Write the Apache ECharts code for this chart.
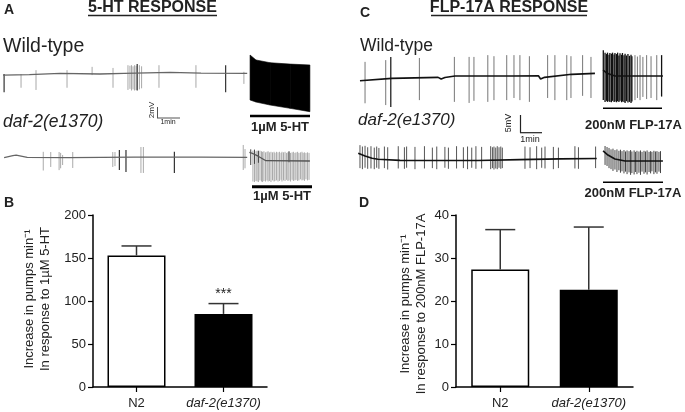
<!DOCTYPE html>
<html><head><meta charset="utf-8">
<script src="https://cdn.jsdelivr.net/npm/echarts@6/dist/echarts.min.js"></script>
<style>html,body{margin:0;padding:0;background:#fff}#c{width:685px;height:412px}</style>
</head><body><div id="c"></div>
<script>
// ---------- DATA (time in min, potential in mV relative to trace baseline) ----------
// Panel A, wild-type trace
const A_WT_BASE = [[0,-0.2],[1.2,-0.1],[2.6,0.13],[4.4,0.0],[5.5,0.1],[7.6,0.3],[9.0,0.15],[11.1,0.1]];
const A_WT_SPIKES_LIGHT = [[0.82,0,-2.5],[1.5,0.7,-2.9],[2.91,0.7,-2.5],[4.05,1.3,-0.2],[5.0,1.1,-2.5],
  [5.68,1.6,-2.9],[5.77,1.5,-2.7],[5.84,1.6,-3.0],[5.91,1.4,-2.8],[5.98,1.6,-3.0],[6.05,1.5,-2.9],[6.2,1.6,-2.8],[6.3,1.4,-2.6],
  [7.09,1.6,-2.5],[8.77,1.6,-2.5],[10.95,0.4,-1.8]];
const A_WT_SPIKES_DARK = [[0.05,0,-3.3],[6.1,1.8,-3.0],[10.12,1.6,-3.3]];
const A_WT_5HT_ENVELOPE = [[11.23,3.45,-4.73],[11.5,2.55,-5.1],[12.14,2.05,-5.64],[13.05,1.8,-6.24],[13.95,1.64,-6.85]];
// Panel A, daf-2 trace
const A_DAF_BASE = [[0.05,-0.05],[0.45,0.3],[0.6,0.4],[1.1,0],[3,-0.05],[6,0.05],[9,0.05],[11.1,0]];
const A_DAF_SPIKES_LIGHT = [[1.83,1.0,-2.4],[2.17,0.96,-1.76],[2.55,0.96,-2.33],[2.62,0.8,-2.0],[2.71,0.42,-1.4],[3.17,0.96,-1.94],
  [4.99,0.96,-1.76],[5.09,0.96,-1.6],[6.27,1.87,-2.85],[6.38,1.87,-2.85],[10.92,2.24,-2.3],[11.0,1.5,-2.0]];
const A_DAF_SPIKES_DARK = [[5.29,1.33,-2.33],[5.59,1.33,-2.67],[7.79,1.0,-2.85]];
const A_DAF_5HT_BASE = [[11.2,0.9],[11.3,0.78],[11.6,0.2],[11.95,-0.62],[13.95,-0.67]];
const A_DAF_5HT_SPIKES = [[11.36,1.2,-4.4],[11.43,1.3,-4.5],[11.5,1.1,-4.3],[11.55,1.2,-4.4],[11.61,1.0,-4.5],[11.68,1.2,-4.2],
  [11.75,1.1,-4.4],[11.8,1.0,-4.5],[11.86,1.1,-4.3],[11.93,0.9,-4.4],[12.0,1.0,-4.2],[12.05,1.1,-4.4],[12.11,0.9,-4.3],
  [12.18,1.0,-4.5],[12.25,0.9,-4.2],[12.32,1.0,-4.4],[12.36,0.8,-4.3],[12.43,1.0,-4.2],[12.5,0.9,-4.4],[12.57,1.0,-4.3],
  [12.64,0.8,-4.1],[12.68,1.0,-4.4],[12.75,0.9,-4.2],[12.82,1.0,-4.3],[12.89,0.8,-4.1],[12.95,0.9,-4.3],[13.0,1.0,-4.2],
  [13.07,0.8,-4.4],[13.14,0.9,-4.1],[13.2,1.0,-4.3],[13.27,0.8,-4.2],[13.32,0.9,-4.1],[13.39,1.0,-4.3],[13.45,0.8,-4.2],
  [13.52,0.9,-4.0],[13.59,1.0,-4.2],[13.64,0.8,-4.1],[13.7,0.9,-4.3],[13.77,0.8,-4.0],[13.84,0.9,-4.2],[13.91,0.8,-4.1]];
const A_DAF_5HT_SPIKES_DARK = [[11.26,1.45,-1.4],[11.43,1.4,-1.2],[11.61,1.2,-1.0],[13.0,1.1,-0.9]];
// Panel C, wild-type trace
const C_WT_BASE = [[0.09,-1.33],[1.53,-0.65],[3.64,-0.37],[3.78,-0.85],[3.95,-0.42],[4.41,0],[6.99,0],[8.2,0.08],[8.3,-0.85],[8.48,-0.37],[9.71,0.48],[10.77,0.76]];
const C_WT_SPIKES = [[0.32,4.0,-7.7],[1.26,4.5,-8.2],[2.79,5.1,-6.8],[4.38,5.4,-7.3],[5.05,5.4,-7.6],[5.27,5.4,-7.0],[5.9,5.9,-7.3],
  [6.18,5.6,-6.8],[6.76,5.9,-6.8],[7.09,5.9,-6.2],[7.36,5.9,-6.8],[7.79,5.6,-7.3],[8.62,5.9,-6.2],[8.95,5.9,-6.8],[9.49,5.9,-6.8],
  [9.68,5.6,-6.2],[10.21,5.9,-5.6],[10.59,5.4,-6.2]];
const C_WT_SPIKES_DARK = [[1.49,5.4,-8.76]];
const C_WT_FLP_BASE = [[11.14,1.7],[11.32,0.76],[11.68,0],[13.86,0]];
const C_WT_FLP_BURST = [[11.15,7.3,-6.8],[11.23,6.6,-7.3],[11.3,6.2,-7.0],[11.34,6.6,-7.3],[11.41,6.0,-7.1],[11.45,6.5,-7.3],[11.52,6.3,-7.4],
  [11.57,6.6,-7.0],[11.64,6.1,-7.3],[11.68,6.5,-7.2],[11.75,6.2,-7.4],[11.8,6.6,-7.1],[11.86,5.8,-7.3],[11.91,6.4,-7.0],
  [11.98,6.0,-7.4],[12.02,6.5,-7.2],[12.09,5.9,-7.3],[12.14,6.3,-7.6],[12.2,5.8,-7.1],[12.27,6.2,-7.5],[12.34,5.7,-7.3],
  [12.41,6.0,-7.6],[12.45,5.6,-7.2],[13.8,5.9,-5.8]];
const C_WT_FLP_SPIKES = [[12.59,5.9,-6.8],[12.7,5.5,-6.2],[12.82,5.9,-6.8],[12.95,5.4,-5.9],[13.12,5.9,-6.5],[13.32,5.6,-6.2],[13.58,5.9,-6.8]];
// Panel C, daf-2 trace
const C_DAF_BASE = [[0.01,1.9],[0.32,1.13],[0.64,0.48],[0.91,0.2],[1.91,-0.1],[5.45,-0.15],[7.36,0.1],[9.18,0.3],[10.85,0.4]];
const C_DAF_SPIKES = [[0.09,4.2,-2.3],[0.2,3.8,-2.6],[0.32,4.0,-2.2],[0.44,3.6,-2.5],[0.59,3.9,-2.4],[0.74,3.5,-2.6],[0.85,3.8,-2.2],
  [0.95,3.4,-2.5],[1.2,3.8,-2.3],[1.35,3.6,-2.7],[1.83,3.9,-2.4],[2.11,3.6,-2.5],[2.21,3.8,-2.2],[2.59,3.7,-2.6],[3.02,3.9,-2.4],
  [3.38,3.5,-2.3],[3.58,3.8,-2.6],[3.95,3.7,-2.2],[4.11,3.5,-2.5],[4.48,3.9,-2.4],[4.79,3.6,-2.3],[4.98,3.8,-2.6],[5.17,3.5,-2.2],
  [5.36,3.9,-2.5],[5.62,3.7,-2.4],[6.03,3.9,-2.6],[6.11,3.6,-2.3],[6.18,3.8,-2.7],[6.26,3.5,-2.4],[6.33,3.9,-2.6],[6.41,3.6,-2.2],
  [6.49,3.8,-2.5],[6.56,3.5,-2.3],[7.59,3.8,-2.5],[7.82,3.6,-2.3],[8.12,3.9,-2.6],[8.35,3.5,-2.2],[8.5,3.8,-2.4],[8.88,3.7,-2.6],
  [9.11,3.5,-2.3],[9.86,3.9,-2.4],[10.02,3.6,-2.5],[10.8,3.8,-2.3]];
const C_DAF_FLP_BASE = [[11.14,2.6],[11.36,1.4],[11.68,0.28],[12.14,-0.28],[13.86,-0.28]];
const C_DAF_FLP_SPIKES = [[11.23,3.95,-1.4],[11.32,3.67,-1.7],[11.41,3.4,-2.3],[11.5,3.0,-2.6],[11.59,3.2,-3.1],[11.68,2.8,-2.7],
  [11.77,3.0,-3.4],[11.86,2.6,-2.9],[11.93,2.9,-3.6],[12.0,2.5,-3.2],[12.09,2.8,-3.8],[12.16,2.4,-3.3],[12.23,2.7,-4.0],
  [12.32,2.5,-3.5],[12.39,2.8,-4.2],[12.45,2.4,-3.7],[12.55,2.7,-4.1],[12.61,2.3,-3.4],[12.68,2.6,-4.0],[12.77,2.4,-3.6],
  [12.84,2.7,-4.2],[12.91,2.3,-3.3],[13.0,2.6,-3.9],[13.07,2.4,-3.5],[13.14,2.7,-4.1],[13.23,2.3,-3.4],[13.3,2.5,-3.8],
  [13.36,2.3,-3.2],[13.45,2.6,-4.0],[13.52,2.4,-3.5],[13.59,2.5,-3.9],[13.68,2.3,-3.3],[13.75,2.5,-3.7]];

// Bar charts
const CATEGORIES = ['N2', 'daf-2(e1370)'];
const B_MEAN = [153, 85];
const B_ERR_TOP = [164, 97];
const B_SIG = ['', '***'];
const D_MEAN = [27.3, 22.6];
const D_ERR_TOP = [36.6, 37.2];
const B_AXIS = {min: 0, max: 200, interval: 50};
const D_AXIS = {min: 0, max: 40, interval: 10};

// ---------- CHART ----------
const FONT = '"Liberation Sans", Arial, sans-serif';
const TXT = '#222';

function baseSeries(gi, data, color, w) {
  return {type: 'line', xAxisIndex: gi, yAxisIndex: gi, data: data, showSymbol: false, silent: true,
    lineStyle: {color: color, width: w}, z: 3, animation: false};
}
function spikeSeries(gi, data, color, w) {
  return {type: 'custom', xAxisIndex: gi, yAxisIndex: gi, data: data, silent: true, animation: false, z: 2,
    renderItem: function (p, api) {
      const a = api.coord([api.value(0), api.value(1)]);
      const b = api.coord([api.value(0), api.value(2)]);
      return {type: 'line', shape: {x1: a[0], y1: a[1], x2: b[0], y2: b[1]}, style: {stroke: color, lineWidth: w}};
    }};
}
function envelopeSeries(gi, env, color) {
  return {type: 'custom', xAxisIndex: gi, yAxisIndex: gi, data: env, silent: true, animation: false, z: 2,
    renderItem: function (p, api) {
      const i = p.dataIndex;
      if (i >= env.length - 1) return null;
      const a = env[i], b = env[i + 1];
      const pts = [api.coord([a[0], a[1]]), api.coord([b[0], b[1]]), api.coord([b[0], b[2]]), api.coord([a[0], a[2]])];
      return {type: 'polygon', shape: {points: pts}, style: {fill: color, stroke: color, lineWidth: 0.6}};
    }};
}
function errSeries(gi, means, tops, sig) {
  const data = means.map((m, i) => [i, m, tops[i]]);
  return {type: 'custom', xAxisIndex: gi, yAxisIndex: gi, data: data, silent: true, animation: false, z: 5,
    renderItem: function (p, api) {
      const a = api.coord([api.value(0), api.value(1)]);
      const b = api.coord([api.value(0), api.value(2)]);
      const children = [
        {type: 'line', shape: {x1: a[0], y1: a[1], x2: b[0], y2: b[1]}, style: {stroke: '#333', lineWidth: 1.5}},
        {type: 'line', shape: {x1: b[0] - 15, y1: b[1], x2: b[0] + 15, y2: b[1]}, style: {stroke: '#333', lineWidth: 1.5}}
      ];
      if (sig && sig[p.dataIndex]) {
        children.push({type: 'text', x: b[0], y: b[1] - 9, style: {text: sig[p.dataIndex], font: '14px ' + FONT, fill: TXT, align: 'center', verticalAlign: 'middle'}});
      }
      return {type: 'group', children: children};
    }};
}

const hiddenX = (max) => ({type: 'value', min: 0, max: max, show: false});
const hiddenY = (min, max) => ({type: 'value', min: min, max: max, show: false});

function catAxis(gi) {
  return {type: 'category', gridIndex: gi,
    data: CATEGORIES,
    axisLine: {show: true, lineStyle: {color: '#000', width: 1.5}},
    axisTick: {show: true, alignWithLabel: true, length: 5, interval: 0, lineStyle: {color: '#000', width: 1.2}},
    axisLabel: {interval: 0, hideOverlap: false, fontSize: 13, color: TXT, fontFamily: FONT, margin: 10,
      formatter: (v, i) => i === 1 ? '{it|' + v + '}' : v,
      rich: {it: {fontStyle: 'italic', fontSize: 13, color: TXT, fontFamily: FONT}}}};
}
function valAxis(gi, ax) {
  return {type: 'value', gridIndex: gi, min: ax.min, max: ax.max, interval: ax.interval,
    axisLine: {show: true, lineStyle: {color: '#000', width: 1.5}},
    axisTick: {show: true, length: 5, lineStyle: {color: '#000', width: 1.2}},
    splitLine: {show: false},
    axisLabel: {fontSize: 13, color: TXT, fontFamily: FONT, margin: 7}};
}
function barSeries(gi, vals) {
  return {type: 'bar', xAxisIndex: gi, yAxisIndex: gi, data: vals, barWidth: 58, silent: true, animation: false,
    itemStyle: {color: (p) => p.dataIndex === 0 ? '#fff' : '#000', borderColor: '#000', borderWidth: 1.5}};
}

function txt(x, y, s, font, align, extra) {
  return Object.assign({type: 'text', x: x, y: y, silent: true,
    style: {text: s, font: font, fill: TXT, align: align || 'left', verticalAlign: 'middle'}}, extra || {});
}
function rtxt(x, y, s, font, lh) {
  return {type: 'text', x: x, y: y, silent: true, rotation: Math.PI / 2,
    style: {text: s, font: font, fill: TXT, align: 'center', verticalAlign: 'middle', lineHeight: lh}};
}
function ln(x1, y1, x2, y2, w, c) {
  return {type: 'line', silent: true, shape: {x1: x1, y1: y1, x2: x2, y2: y2}, style: {stroke: c || '#000', lineWidth: w}};
}

const option = {
  backgroundColor: '#fff',
  animation: false,
  grid: [
    {left: 3, top: 52, width: 308, height: 66},
    {left: 3, top: 135.3, width: 308, height: 55},
    {left: 358, top: 47.7, width: 308, height: 60.2},
    {left: 358, top: 142.3, width: 308, height: 38.9},
    {left: 93, top: 215, width: 174, height: 172},
    {left: 456, top: 215, width: 177, height: 172}
  ],
  xAxis: [
    Object.assign(hiddenX(14), {gridIndex: 0}),
    Object.assign(hiddenX(14), {gridIndex: 1}),
    Object.assign(hiddenX(14), {gridIndex: 2}),
    Object.assign(hiddenX(14), {gridIndex: 3}),
    catAxis(4), catAxis(5)
  ],
  yAxis: [
    Object.assign(hiddenY(-8, 4), {gridIndex: 0}),
    Object.assign(hiddenY(-6, 4), {gridIndex: 1}),
    Object.assign(hiddenY(-9, 8), {gridIndex: 2}),
    Object.assign(hiddenY(-6, 5), {gridIndex: 3}),
    valAxis(4, B_AXIS), valAxis(5, D_AXIS)
  ],
  series: [
    spikeSeries(0, A_WT_SPIKES_LIGHT, '#a8a8a8', 1),
    spikeSeries(0, A_WT_SPIKES_DARK, '#333', 1.2),
    baseSeries(0, A_WT_BASE, '#666', 1.3),
    envelopeSeries(0, A_WT_5HT_ENVELOPE, '#000'),

    spikeSeries(1, A_DAF_SPIKES_LIGHT, '#aaa', 1),
    spikeSeries(1, A_DAF_SPIKES_DARK, '#333', 1.2),
    baseSeries(1, A_DAF_BASE, '#666', 1.3),
    spikeSeries(1, A_DAF_5HT_SPIKES, '#a0a0a0', 0.9),
    spikeSeries(1, A_DAF_5HT_SPIKES_DARK, '#444', 1),
    baseSeries(1, A_DAF_5HT_BASE, '#555', 1.3),

    spikeSeries(2, C_WT_SPIKES, '#777', 1),
    spikeSeries(2, C_WT_SPIKES_DARK, '#222', 1.3),
    baseSeries(2, C_WT_BASE, '#111', 1.6),
    spikeSeries(2, C_WT_FLP_BURST, '#111', 1.3),
    spikeSeries(2, C_WT_FLP_SPIKES, '#777', 1),
    baseSeries(2, C_WT_FLP_BASE, '#111', 1.6),

    spikeSeries(3, C_DAF_SPIKES, '#555', 1),
    baseSeries(3, C_DAF_BASE, '#111', 1.6),
    spikeSeries(3, C_DAF_FLP_SPIKES, '#444', 1),
    baseSeries(3, C_DAF_FLP_BASE, '#111', 1.6),

    barSeries(4, B_MEAN),
    errSeries(4, B_MEAN, B_ERR_TOP, B_SIG),
    barSeries(5, D_MEAN),
    errSeries(5, D_MEAN, D_ERR_TOP, null)
  ],
  graphic: [
    // Panel A
    txt(4, 10, 'A', 'bold 14px ' + FONT),
    txt(152.5, 8, '5-HT RESPONSE', 'bold 16px ' + FONT, 'center'),
    ln(88, 15.5, 217, 15.5, 1.3, '#222'),
    txt(3, 47, 'Wild-type', '19.5px ' + FONT),
    txt(3, 122, 'daf-2(e1370)', 'italic 17.5px ' + FONT),
    ln(250, 116, 310, 116, 2.5),
    txt(280, 127.5, '1µM 5-HT', 'bold 13px ' + FONT, 'center'),
    ln(252, 186.7, 312, 186.7, 3),
    txt(282, 196, '1µM 5-HT', 'bold 13px ' + FONT, 'center'),
    ln(157.5, 107, 157.5, 118, 1, '#555'),
    ln(157, 118, 180, 118, 1, '#555'),
    {type: 'text', x: 152, y: 110, silent: true, rotation: Math.PI / 2,
      style: {text: '2mV', font: '8px ' + FONT, fill: TXT, align: 'center', verticalAlign: 'middle'}},
    txt(168, 122.5, '1min', '7px ' + FONT, 'center'),
    // Panel B
    txt(4, 203, 'B', 'bold 14px ' + FONT),
    rtxt(37, 299, 'Increase in pumps min⁻¹\nIn response to 1µM 5-HT', '13px ' + FONT, 16),
    // Panel C
    txt(360, 13, 'C', 'bold 14px ' + FONT),
    txt(509, 8, 'FLP-17A RESPONSE', 'bold 16px ' + FONT, 'center'),
    ln(431, 15.5, 587, 15.5, 1.3, '#222'),
    txt(360, 46, 'Wild-type', '17.5px ' + FONT),
    txt(358, 120, 'daf-2(e1370)', 'italic 17px ' + FONT),
    ln(603, 108.3, 662, 108.3, 1.5),
    txt(633.5, 125, '200nM FLP-17A', 'bold 13px ' + FONT, 'center'),
    ln(603, 182.3, 663, 182.3, 1.5),
    txt(633, 193.5, '200nM FLP-17A', 'bold 13px ' + FONT, 'center'),
    ln(520.5, 115, 520.5, 132.7, 1.2, '#222'),
    ln(520, 132.7, 542, 132.7, 1.2, '#222'),
    {type: 'text', x: 508.5, y: 123, silent: true, rotation: Math.PI / 2,
      style: {text: '5mV', font: '9px ' + FONT, fill: TXT, align: 'center', verticalAlign: 'middle'}},
    txt(530, 140, '1min', '9px ' + FONT, 'center'),
    // Panel D
    txt(359, 203, 'D', 'bold 14px ' + FONT),
    rtxt(413, 304, 'Increase in pumps min⁻¹\nIn response to 200nM FLP-17A', '13px ' + FONT, 16)
  ]
};

const chart = echarts.init(document.getElementById('c'), null, {renderer: 'canvas'});
chart.setOption(option);
</script>
</body></html>
